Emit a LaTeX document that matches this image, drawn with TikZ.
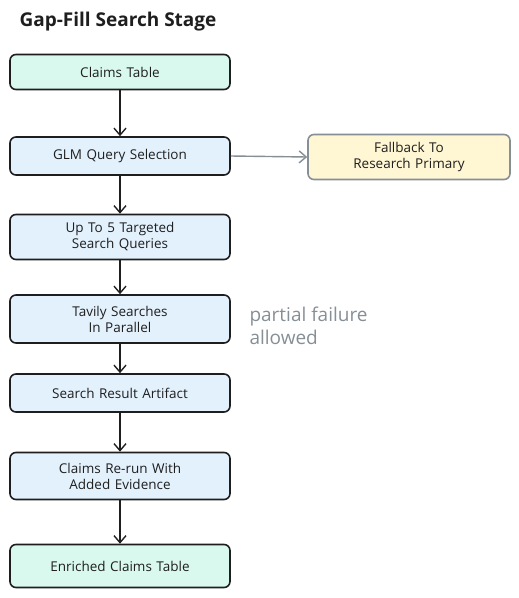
\documentclass[tikz,border=0pt]{standalone}
\usepackage{fontspec}
\setmainfont{Open Sans}
\usetikzlibrary{shapes,arrows.meta,positioning}
\definecolor{inkdark}{HTML}{1E1E1E}
\definecolor{inkgray}{HTML}{868E96}
\definecolor{mintfill}{HTML}{D9F9EE}
\definecolor{bluefill}{HTML}{E3F1FD}
\definecolor{yellowfill}{HTML}{FFF6D4}
\tikzstyle{stage} = [rectangle, draw=inkdark, line width=1.6pt, fill=bluefill,
    text width=210pt, align=center, rounded corners=6pt, minimum width=220pt,
    minimum height=38pt, font=\fontsize{13.5}{16}\selectfont, text=inkdark]
\tikzstyle{endpoint} = [stage, fill=mintfill]
\tikzstyle{fallback} = [stage, draw=inkgray, fill=yellowfill, minimum width=202pt, text width=190pt]
\tikzstyle{line} = [draw=inkdark, line width=1.4pt, -{Straight Barb[length=7pt,width=12pt]}]

\begin{document}
\begin{tikzpicture}[node distance = 82pt, auto]
    \useasboundingbox (0pt,0pt) rectangle (519pt,-598pt);
    % Title
    \node [anchor=west, font=\fontsize{19}{22}\selectfont\bfseries, text=inkdark] (title) at (16pt,-22pt) {Gap-Fill Search Stage};
    % Place nodes
    \node [endpoint, minimum height=35pt] (claims) at (120pt,-72pt) {Claims Table};
    \node [stage, below of=claims, node distance=84pt] (glm) {GLM Query Selection};
    \node [stage, below of=glm, node distance=81pt, minimum height=45pt] (queries) {Up To 5 Targeted\\Search Queries};
    \node [stage, below of=queries, node distance=82pt, minimum height=48pt] (tavily) {Tavily Searches\\In Parallel};
    \node [stage, below of=tavily, node distance=74pt] (artifact) {Search Result Artifact};
    \node [stage, below of=artifact, node distance=83pt, minimum height=47pt] (rerun) {Claims Re-run With\\Added Evidence};
    \node [endpoint, below of=rerun, node distance=90pt, minimum height=43pt] (enriched) {Enriched Claims Table};
    \node [fallback, minimum height=45pt] (fallback) at (409pt,-157pt) {Fallback To\\Research Primary};
    \node [anchor=west, align=left, text=inkgray, font=\fontsize{19}{23}\selectfont] (partial) at (246pt,-326pt) {partial failure\\allowed};
    % Draw edges
    \path [line] (claims) -- (glm);
    \path [line] (glm) -- (queries);
    \path [line] (queries) -- (tavily);
    \path [line] (tavily) -- (artifact);
    \path [line] (artifact) -- (rerun);
    \path [line] (rerun) -- (enriched);
    \path [line, draw=inkgray] (glm.east) -- (fallback.west);
\end{tikzpicture}
\end{document}
